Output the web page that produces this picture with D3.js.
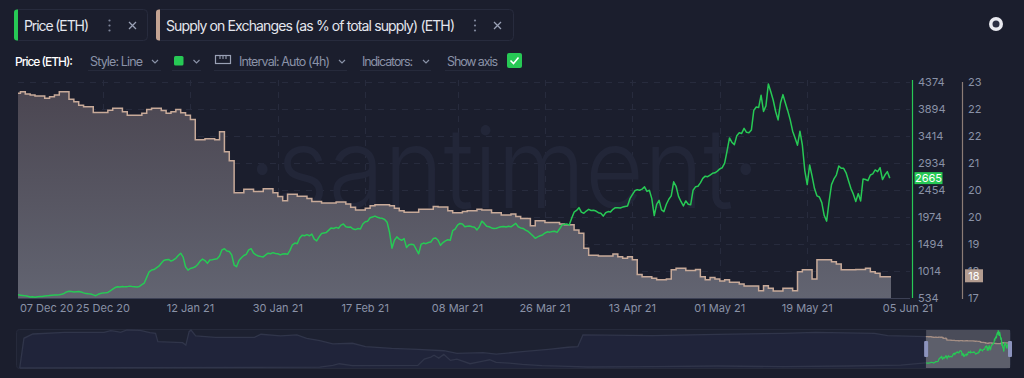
<!DOCTYPE html>
<html><head><meta charset="utf-8">
<script src="https://cdn.jsdelivr.net/npm/d3@7"></script>
<style>
html,body{margin:0;padding:0;background:#1b1e2d;overflow:hidden}
svg{display:block}
</style></head><body>
<svg id="c" width="1024" height="378"></svg>
<script>
// ---------------- DATA ----------------
// Price (ETH), 12-hour samples starting 2020-12-07 12:00 UTC
const priceStart = "2020-12-07T12:00:00Z";
const priceStepHours = 12;
const priceValues = [
590,585,580,572,565,552,556,548,555,562,
560,568,572,580,585,588,586,592,600,615,
642,655,648,640,645,650,640,625,612,608,
605,590,575,600,615,625,628,632,660,690,
720,735,728,740,732,736,745,738,735,730,
740,770,800,900,1000,1030,1040,1070,1100,1150,
1200,1215,1220,1190,1210,1240,1290,1330,1260,1090,
1030,1060,1070,1090,1130,1190,1225,1200,1150,1210,
1215,1225,1230,1280,1390,1410,1370,1360,1300,1120,
1090,1200,1250,1290,1310,1390,1410,1330,1300,1280,
1270,1265,1300,1330,1320,1340,1325,1320,1300,1315,
1320,1310,1380,1480,1510,1500,1600,1650,1640,1660,
1640,1670,1580,1550,1620,1680,1690,1700,1740,1780,
1770,1790,1775,1830,1850,1800,1790,1795,1760,1750,
1770,1760,1850,1890,1900,1960,1975,1990,1970,1955,
1950,1930,1880,1700,1420,1560,1620,1580,1560,1590,
1430,1480,1490,1480,1400,1320,1490,1510,1500,1520,
1530,1590,1600,1560,1470,1520,1550,1570,1560,1730,
1760,1830,1860,1850,1800,1810,1815,1800,1790,1745,
1800,1900,1860,1810,1800,1780,1770,1775,1790,1800,
1805,1795,1810,1800,1830,1860,1800,1780,1770,1740,
1720,1680,1640,1595,1620,1640,1655,1690,1710,1705,
1715,1720,1700,1760,1830,1845,1850,1830,1950,2060,
2090,2140,2060,2040,2080,2110,2090,2095,2080,2050,
2040,1990,2050,2070,2065,2110,2140,2140,2135,2150,
2160,2170,2300,2370,2440,2460,2450,2470,2510,2430,
2450,2300,2000,2200,2270,2100,2070,2200,2290,2350,
2600,2520,2340,2250,2170,2260,2200,2190,2450,2510,
2520,2580,2660,2700,2690,2720,2750,2760,2790,2830,
2850,2930,3150,3380,3300,3260,3420,3470,3460,3550,
3480,3470,3520,3870,3930,3920,4140,3850,3950,4340,
4200,4050,3850,3700,4000,4150,4000,3860,3700,3500,
3380,3250,3500,3250,2800,2550,2900,2700,2480,2350,
2330,2230,2000,1900,2250,2550,2650,2720,2880,2840,
2840,2760,2620,2480,2380,2250,2390,2260,2650,2640,
2620,2720,2740,2810,2780,2850,2640,2720,2780,2665
];

// Supply on Exchanges (% of total supply), daily step changes
const supplyDates = [
"2020-12-07","2020-12-08","2020-12-09","2020-12-10","2020-12-11","2020-12-13","2020-12-14","2020-12-15","2020-12-16","2020-12-18",
"2020-12-19","2020-12-20","2020-12-21","2020-12-23","2020-12-26","2020-12-27","2020-12-29","2020-12-30","2021-01-02","2021-01-03",
"2021-01-04","2021-01-06","2021-01-07","2021-01-08","2021-01-09","2021-01-10","2021-01-11","2021-01-12","2021-01-13","2021-01-15",
"2021-01-17","2021-01-18","2021-01-19","2021-01-20","2021-01-21","2021-01-23","2021-01-25","2021-01-27","2021-01-29","2021-01-30",
"2021-01-31","2021-02-01","2021-02-03","2021-02-05","2021-02-06","2021-02-08","2021-02-11","2021-02-13","2021-02-14","2021-02-15",
"2021-02-17","2021-02-18","2021-02-19","2021-02-22","2021-02-23","2021-02-24","2021-02-25","2021-02-28","2021-03-03","2021-03-04",
"2021-03-06","2021-03-07","2021-03-09","2021-03-10","2021-03-12","2021-03-13","2021-03-15","2021-03-17","2021-03-19","2021-03-20",
"2021-03-21","2021-03-23","2021-03-24","2021-03-26","2021-03-29","2021-03-30","2021-04-01","2021-04-02","2021-04-03","2021-04-04",
"2021-04-06","2021-04-09","2021-04-10","2021-04-11","2021-04-12","2021-04-13","2021-04-14","2021-04-15","2021-04-17","2021-04-18",
"2021-04-20","2021-04-21","2021-04-22","2021-04-24","2021-04-26","2021-04-27","2021-04-28","2021-04-29","2021-04-30","2021-05-01",
"2021-05-02","2021-05-03","2021-05-05","2021-05-06","2021-05-09","2021-05-10","2021-05-11","2021-05-12","2021-05-14","2021-05-16",
"2021-05-17","2021-05-18","2021-05-20","2021-05-21","2021-05-24","2021-05-25","2021-05-26","2021-05-29","2021-05-31","2021-06-01",
"2021-06-02","2021-06-03"
];
const supplyValues = [
22.71,22.75,22.69,22.66,22.64,22.58,22.62,22.66,22.75,22.55,
22.49,22.40,22.36,22.21,22.27,22.32,22.23,22.14,22.19,22.29,
22.32,22.26,22.19,22.23,22.29,22.20,22.14,22.03,21.50,21.53,
21.50,21.71,21.19,20.96,20.13,20.22,20.16,20.23,20.13,20.03,
19.92,20.09,20.04,19.98,19.90,19.86,19.89,19.84,19.75,19.68,
19.73,19.79,19.82,19.79,19.73,19.66,19.62,19.70,19.77,19.76,
19.66,19.61,19.64,19.66,19.70,19.68,19.61,19.55,19.58,19.51,
19.46,19.27,19.40,19.36,19.32,19.30,19.16,19.08,18.69,18.51,
18.49,18.54,18.47,18.43,18.47,18.39,18.01,17.95,17.91,17.87,
17.89,18.13,18.17,18.11,18.14,17.95,17.87,17.93,17.89,17.84,
17.87,17.81,17.76,17.71,17.59,17.72,17.65,17.58,17.65,17.59,
18.08,18.13,17.89,18.39,18.34,18.28,18.13,18.14,18.17,18.08,
18.04,17.95
];

// Axis ticks
const priceTicks = [534,1014,1494,1974,2454,2934,3414,3894,4374];
const supplyTicks = [17.4,18.1,18.8,19.5,20.2,20.9,21.6,22.3,23.0];
const supplyTickLabels = ["17","18","19","20","20","21","22","22","23"];
const xTickDates = ["2020-12-25","2021-01-12","2021-01-30","2021-02-17","2021-03-08","2021-03-26","2021-04-13","2021-05-01","2021-05-19"];
const xEdgeLabels = ["07 Dec 20","05 Jun 21"];
const lastPriceLabel = "2665";
const lastSupplyLabel = "18";

// Navigator (full history) values
const navPriceDates = ["2015-08-14","2017-05-18","2017-06-15","2017-06-29","2017-07-27","2017-12-14","2017-12-28","2018-01-11","2018-01-18","2018-01-28","2018-02-08","2018-02-22","2018-03-08","2018-04-05","2018-05-03","2018-05-17","2018-05-31","2018-06-28","2018-07-26","2018-09-06","2018-11-01","2018-12-13","2019-05-01","2019-09-18","2020-02-05","2020-06-24","2020-10-14","2020-12-07"];
const navPriceValues = [2,90,300,490,270,300,1025,1255,1480,1140,1560,875,1025,494,800,950,650,570,420,266,190,114,152,228,152,228,342,590];
const navSupplyDates = ["2015-08-14","2015-08-23","2015-09-11","2015-11-19","2016-02-11","2016-02-25","2016-03-10","2016-03-17","2016-03-31","2016-04-28","2016-05-19","2016-05-31","2016-06-05","2016-07-28","2016-08-04","2016-08-11","2016-08-15","2016-08-25","2016-10-06","2016-12-29","2017-01-12","2017-02-23","2017-03-30","2017-04-20","2017-05-18","2017-06-15","2017-07-27","2017-08-24","2017-10-19","2017-12-14","2018-02-08","2018-03-08","2018-05-03","2018-05-31","2018-07-26","2018-09-20","2018-11-01","2018-11-22","2018-12-03","2019-05-01","2019-09-18","2020-02-05","2020-04-15","2020-08-19","2020-09-16","2020-12-07"];
const navSupplyValues = [0,21.5,24.6,25.8,25.8,27.0,26.3,25.8,27.5,27.3,25.6,25.1,19.1,18.3,16.6,26.3,27.5,23.2,22.2,22.2,24.4,23.2,23.9,21.5,19.8,17.4,17.9,15.4,14.2,13.5,12.5,10.6,11.1,10.1,11.8,13.5,15.0,15.4,23.9,23.4,24.4,25.1,25.8,25.1,23.4,22.7];

// ---------------- DRAW ----------------
const svg = d3.select('#c');
const BG = '#1b1e2d';
const FONT = 'Inter, "Noto Sans", sans-serif';
const GREEN = '#27c955';
const BROWN = '#c8aa99';
const GREYTXT = '#8a92a7';

svg.append('rect').attr('width',1024).attr('height',378).attr('fill',BG);

const defs = svg.append('defs');
const grad = defs.append('linearGradient').attr('id','supGrad').attr('gradientUnits','userSpaceOnUse')
  .attr('x1',0).attr('y1',82).attr('x2',0).attr('y2',298);
grad.append('stop').attr('offset',0).attr('stop-color','#4a4550');
grad.append('stop').attr('offset',1).attr('stop-color','#626471');
defs.append('clipPath').attr('id','plotClip').append('rect').attr('x',18).attr('y',70).attr('width',874).attr('height',229);

// scales
const xStart = new Date(priceStart);
const xEnd = new Date("2021-06-05T06:00:00Z");
const x = d3.scaleUtc().domain([xStart, xEnd]).range([18, 891]);
const yP = d3.scaleLinear().domain([534, 4374]).range([298, 82]);
const yS = d3.scaleLinear().domain([17.4, 23.0]).range([298, 82]);

const priceData = priceValues.map((v,i)=>({date: d3.utcHour.offset(xStart, i*priceStepHours), value: v}));
const supplyData = supplyDates.map((d,i)=>({date: new Date(d+"T00:00:00Z"), value: supplyValues[i]}));
const supplyStep = supplyData.concat([{date: xEnd, value: supplyValues[supplyValues.length-1]}]);

// ---- top legend ----
function legendBox(x0, w, color, label, labelW, dotsX, crossX){
  const g = svg.append('g');
  g.append('rect').attr('x',x0+0.5).attr('y',9.5).attr('width',w).attr('height',31).attr('rx',4)
    .attr('fill','none').attr('stroke','#272b3d');
  g.append('path').attr('d',`M${x0+4},9.5 L${x0+4},40.5 L${x0+3},40.5 Q${x0},40.5 ${x0},37.5 L${x0},12.5 Q${x0},9.5 ${x0+3},9.5 Z`).attr('fill',color);
  g.append('text').attr('x',x0+10).attr('y',30.5).attr('fill','#e4e6ee').attr('font-family',FONT)
    .attr('font-size',14).attr('textLength',labelW).text(label);
  [20.5,25.5,30.5].forEach(cy=>g.append('circle').attr('cx',dotsX).attr('cy',cy).attr('r',1.1).attr('fill','#7d8499'));
  g.append('path').attr('d',`M${crossX-3.5},22 L${crossX+3.5},29 M${crossX+3.5},22 L${crossX-3.5},29`)
    .attr('stroke','#9aa1b5').attr('stroke-width',1.3);
}
legendBox(14, 133, GREEN, 'Price (ETH)', 65, 109.5, 132.5);
legendBox(156, 357, '#c4a493', 'Supply on Exchanges (as % of total supply) (ETH)', 289, 475, 497.5);

// top-right icon
svg.append('circle').attr('cx',996).attr('cy',24).attr('r',7).attr('fill','#e9eaf0');
svg.append('circle').attr('cx',996).attr('cy',24).attr('r',3.5).attr('fill','#2a2e42');

// ---- second row ----
const row = svg.append('g').attr('font-family',FONT).attr('font-size',12.5);
row.append('text').attr('x',15).attr('y',65.5).attr('fill','#ffffff').attr('font-weight',500).attr('font-size',12).attr('textLength',58).text('Price (ETH):');
function chevron(cx){ row.append('path').attr('d',`M${cx-3},60 L${cx},63 L${cx+3},60`).attr('fill','none').attr('stroke','#8a92a7').attr('stroke-width',1.2); }
function underline(x1,x2){ row.append('line').attr('x1',x1).attr('x2',x2).attr('y1',70.5).attr('y2',70.5).attr('stroke','#262a3b'); }
row.append('text').attr('x',90).attr('y',65.5).attr('fill',GREYTXT).attr('textLength',53).text('Style: Line');
chevron(155); underline(88,161);
row.append('rect').attr('x',174).attr('y',56).attr('width',9.5).attr('height',9.5).attr('rx',1.5).attr('fill',GREEN);
chevron(196.5); underline(172,201);
row.append('rect').attr('x',215.5).attr('y',55.5).attr('width',15).attr('height',8).attr('fill','none').attr('stroke','#9aa1b5').attr('stroke-width',1.2);
[220,223,226].forEach(lx=>row.append('line').attr('x1',lx).attr('x2',lx).attr('y1',55.5).attr('y2',59).attr('stroke','#9aa1b5').attr('stroke-width',1.1));
row.append('text').attr('x',239).attr('y',65.5).attr('fill',GREYTXT).attr('textLength',91).text('Interval: Auto (4h)');
chevron(342); underline(214,347);
row.append('text').attr('x',362).attr('y',65.5).attr('fill',GREYTXT).attr('textLength',51).text('Indicators:');
chevron(426); underline(360,431);
row.append('text').attr('x',447).attr('y',65.5).attr('fill',GREYTXT).attr('textLength',51).text('Show axis');
underline(445,500);
row.append('rect').attr('x',507).attr('y',53).attr('width',15).attr('height',15).attr('rx',2).attr('fill',GREEN);
row.append('path').attr('d','M510.5,60.5 L513.5,63.5 L518.5,57.5').attr('fill','none').attr('stroke','#ffffff').attr('stroke-width',1.6);

// ---- grid ----
const grid = svg.append('g');
grid.selectAll('line.h').data(priceTicks).join('line')
  .attr('x1',18).attr('x2',910).attr('y1',d=>Math.round(yP(d))+0.5).attr('y2',d=>Math.round(yP(d))+0.5)
  .attr('stroke','#272b3d').attr('stroke-dasharray','6,6');
grid.selectAll('line.v').data(xTickDates).join('line')
  .attr('x1',d=>Math.round(x(new Date(d+"T00:00:00Z")))+0.5).attr('x2',d=>Math.round(x(new Date(d+"T00:00:00Z")))+0.5)
  .attr('y1',80).attr('y2',298)
  .attr('stroke','#272b3d').attr('stroke-dasharray','6,6');

// watermark
svg.append('text').attr('x',248).attr('y',208).attr('fill','#222638')
  .attr('font-family','Inter, sans-serif').attr('font-weight',300).attr('font-size',112)
  .attr('textLength',512).attr('lengthAdjust','spacingAndGlyphs').text('·santiment·');

// ---- supply area + line ----
const plot = svg.append('g').attr('clip-path','url(#plotClip)');
plot.append('path').datum(supplyStep)
  .attr('d', d3.area().curve(d3.curveStepAfter).x(d=>x(d.date)).y0(298).y1(d=>yS(d.value)))
  .attr('fill','url(#supGrad)');
plot.append('path').datum(supplyStep)
  .attr('d', d3.line().curve(d3.curveStepAfter).x(d=>x(d.date)).y(d=>yS(d.value)))
  .attr('fill','none').attr('stroke',BROWN).attr('stroke-width',1.5);
// baseline
svg.append('line').attr('x1',18).attr('x2',910).attr('y1',298.5).attr('y2',298.5).attr('stroke','#3c4054');
// price line
plot.append('path').datum(priceData)
  .attr('d', d3.line().x(d=>x(d.date)).y(d=>yP(d.value)))
  .attr('fill','none').attr('stroke',GREEN).attr('stroke-width',1.5).attr('stroke-linejoin','round');

// ---- right axes ----
svg.append('line').attr('x1',912.5).attr('x2',912.5).attr('y1',80).attr('y2',298).attr('stroke',GREEN).attr('stroke-width',1.2);
const axP = d3.axisRight(yP).tickValues(priceTicks).tickSize(0).tickPadding(6).tickFormat(d3.format('d'));
const gP = svg.append('g').attr('transform','translate(912,0)').call(axP);
gP.select('.domain').remove();
gP.selectAll('text').attr('fill',GREYTXT).attr('font-family',FONT).attr('font-size',11);

svg.append('line').attr('x1',962.5).attr('x2',962.5).attr('y1',82).attr('y2',299).attr('stroke','#8c7c76').attr('stroke-width',1.2);
const axS = d3.axisRight(yS).tickValues(supplyTicks).tickSize(0).tickPadding(6).tickFormat((d,i)=>supplyTickLabels[i]);
const gS = svg.append('g').attr('transform','translate(962,0)').call(axS);
gS.select('.domain').remove();
gS.selectAll('text').attr('fill',GREYTXT).attr('font-family',FONT).attr('font-size',11);

// badges
const lastP = priceValues[priceValues.length-1];
const yLP = yP(lastP);
svg.append('rect').attr('x',914.5).attr('y',yLP-6).attr('width',28).attr('height',12).attr('fill',GREEN);
svg.append('text').attr('x',928.5).attr('y',yLP+4).attr('text-anchor','middle').attr('fill','#ffffff')
  .attr('font-family',FONT).attr('font-size',11).text(lastPriceLabel);
const lastS = supplyValues[supplyValues.length-1];
const yLS = yS(lastS) - 1;
svg.append('rect').attr('x',965).attr('y',yLS-6.5).attr('width',18).attr('height',13).attr('fill','#b39c90');
svg.append('text').attr('x',974).attr('y',yLS+4).attr('text-anchor','middle').attr('fill','#ffffff')
  .attr('font-family',FONT).attr('font-size',11).text(lastSupplyLabel);

// ---- x axis labels ----
const fmt = d3.utcFormat('%d %b %y');
const gx = svg.append('g').attr('font-family',FONT).attr('font-size',11).attr('fill',GREYTXT);
gx.selectAll('text.t').data(xTickDates).join('text')
  .attr('x',d=>x(new Date(d+"T00:00:00Z"))).attr('y',311.5).attr('text-anchor','middle').text(d=>fmt(new Date(d+"T00:00:00Z")));
gx.append('text').attr('x',x(xStart)+2).attr('y',311.5).attr('text-anchor','start').text(xEdgeLabels[0]);
gx.append('text').attr('x',x(new Date("2021-06-05T00:00:00Z"))-7).attr('y',311.5).attr('text-anchor','start').text(xEdgeLabels[1]);

// ---- navigator ----
const nx = d3.scaleUtc().domain([new Date("2015-08-06T00:00:00Z"), xEnd]).range([16, 1010]);
const nyP = d3.scaleLinear().domain([0, 4374]).range([368, 330]);
const nyS = d3.scaleLinear().domain([0, 27.5]).range([368, 330]);
const nav = svg.append('g');
nav.append('rect').attr('x',16.5).attr('y',329.5).attr('width',994).attr('height',39).attr('rx',3)
  .attr('fill','#1d2131').attr('stroke','#262a3b');
const navS = navSupplyDates.map((d,i)=>({date:new Date(d+"T00:00:00Z"), value:navSupplyValues[i]}));
const navP = navPriceDates.map((d,i)=>({date:new Date(d+"T00:00:00Z"), value:navPriceValues[i]}));
nav.append('path').datum(navS).attr('d',d3.area().x(d=>nx(d.date)).y0(368).y1(d=>nyS(d.value)))
  .attr('fill','#20243a');
nav.append('path').datum(navS).attr('d',d3.line().x(d=>nx(d.date)).y(d=>nyS(d.value)))
  .attr('fill','none').attr('stroke','#30354a').attr('stroke-width',1.3);
nav.append('path').datum(navP).attr('d',d3.line().x(d=>nx(d.date)).y(d=>nyP(d.value)))
  .attr('fill','none').attr('stroke','#30354a').attr('stroke-width',1.3);
// selection
const sx0 = nx(xStart), sx1 = nx(xEnd);
nav.append('rect').attr('x',sx0).attr('y',330).attr('width',sx1-sx0).attr('height',38).attr('fill','#4a4c59');
nav.append('path').datum(supplyStep).attr('d',d3.area().curve(d3.curveStepAfter).x(d=>nx(d.date)).y0(368).y1(d=>nyS(d.value)))
  .attr('fill','#5d5f6b');
nav.append('path').datum(supplyStep).attr('d',d3.line().curve(d3.curveStepAfter).x(d=>nx(d.date)).y(d=>nyS(d.value)))
  .attr('fill','none').attr('stroke','#a48e84').attr('stroke-width',1.2);
nav.append('path').datum(priceData).attr('d',d3.line().x(d=>nx(d.date)).y(d=>nyP(d.value)))
  .attr('fill','none').attr('stroke',GREEN).attr('stroke-width',1.2);
[sx0, sx1].forEach(hx=>nav.append('rect').attr('x',hx-2).attr('y',341).attr('width',4).attr('height',16).attr('rx',1)
  .attr('fill','#8c93bd'));
</script>
</body></html>
